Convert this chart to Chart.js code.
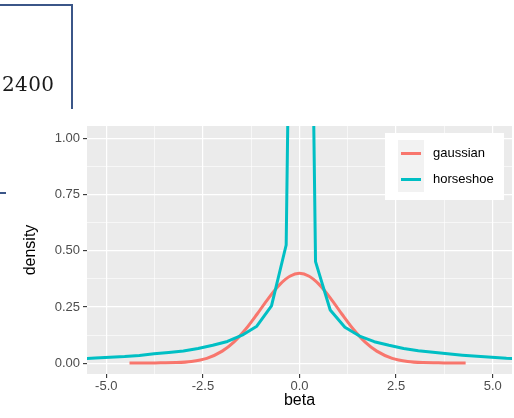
<!DOCTYPE html>
<html lang="en">
<head>
<meta charset="UTF-8">
<title>Prior density: gaussian vs horseshoe</title>
<script src="https://cdn.jsdelivr.net/npm/chart.js"></script>
<style>
    body { margin: 0; background: #fff; }
    .wrap { position: relative; width: 514px; height: 418px; overflow: hidden; }
    #plot { position: absolute; left: 0; top: 0; }
    .frame-top { position: absolute; left: 0; top: 4px; width: 73px; height: 2px; background: #3b5688; }
    .frame-side { position: absolute; left: 71px; top: 4px; width: 2px; height: 105px; background: #3b5688; }
    .stub { position: absolute; left: 0; top: 192px; width: 6px; height: 2px; background: #3b5688; }
    .num { position: absolute; left: 2px; top: 73px; font-family: 'DejaVu Serif', serif; font-size: 20px; line-height: 23px; letter-spacing: 0.4px; color: #1a1a1a; }
</style>
</head>
<body>
<div class="wrap">
    <canvas id="plot" width="514" height="418"></canvas>
    <div class="frame-top"></div>
    <div class="frame-side"></div>
    <div class="stub"></div>
    <div class="num">2400</div>
</div>

<script>
    // gaussian prior, density
    const betaGauss = [-4.4, -4.0, -3.6, -3.2, -2.8, -2.4, -2.0, -1.7, -1.4, -1.1, -0.8, -0.5, -0.25, 0,
        0.25, 0.5, 0.8, 1.1, 1.4, 1.7, 2.0, 2.4, 2.8, 3.2, 3.6, 4.0, 4.3];
    const densGauss = [0.001, 0.001, 0.002, 0.003, 0.008, 0.022, 0.054, 0.094, 0.150, 0.218, 0.290, 0.352, 0.387, 0.400,
        0.387, 0.352, 0.290, 0.218, 0.150, 0.094, 0.054, 0.022, 0.008, 0.003, 0.002, 0.001, 0.001];

    // horseshoe prior, density at the kinks of the teal line
    const betaHorse = [-5.665, -5.285, -4.905, -4.525, -4.145, -3.765, -3.385, -3.005, -2.625, -2.245, -1.865, -1.485,
        -1.105, -0.725, -0.345, 0.035, 0.415, 0.795, 1.175, 1.555, 1.935, 2.315, 2.695, 3.075, 3.455, 3.835,
        4.215, 4.595, 4.975, 5.355, 5.735];
    const densHorse = [0.020, 0.024, 0.027, 0.030, 0.035, 0.042, 0.048, 0.055, 0.066, 0.080, 0.097, 0.125,
        0.165, 0.255, 0.526, 5.5, 0.452, 0.237, 0.160, 0.121, 0.096, 0.080, 0.066, 0.056, 0.049, 0.042,
        0.036, 0.031, 0.027, 0.022, 0.019];

    const seriesNames = ['gaussian', 'horseshoe'];
    const seriesColors = ['#F8766D', '#00BFC4'];

    const xMajor = [-5, -2.5, 0, 2.5, 5];
    const xMajorLabels = ['-5.0', '-2.5', '0.0', '2.5', '5.0'];
    const xMinor = [-3.75, -1.25, 1.25, 3.75];
    const yMajor = [0, 0.25, 0.5, 0.75, 1];
    const yMajorLabels = ['0.00', '0.25', '0.50', '0.75', '1.00'];
    const yMinor = [0.125, 0.375, 0.625, 0.875];

    const zip = (xs, ys) => xs.map((x, i) => ({ x: x, y: ys[i] }));

    function isMajor(list, v) {
        return list.some(m => Math.abs(m - v) < 1e-9);
    }

    function setTicks(major, minor) {
        return function (scale) {
            scale.ticks = major.concat(minor).sort((a, b) => a - b).map(v => ({ value: v }));
        };
    }

    function labelFor(major, labels) {
        return function (value) {
            const i = major.findIndex(m => Math.abs(m - value) < 1e-9);
            return i >= 0 ? labels[i] : '';
        };
    }

    const panelBg = {
        id: 'panelBg',
        beforeDraw(chart) {
            const a = chart.chartArea;
            const ctx = chart.ctx;
            ctx.save();
            ctx.fillStyle = '#EBEBEB';
            ctx.fillRect(a.left, a.top, a.right - a.left, a.bottom - a.top);
            ctx.restore();
        }
    };

    // ggplot-like legend inside the panel, top right
    const insideLegend = {
        id: 'insideLegend',
        afterDraw(chart) {
            const a = chart.chartArea;
            const ctx = chart.ctx;
            const bx = a.right - 127, by = a.top + 7;
            ctx.save();
            ctx.fillStyle = '#fff';
            ctx.fillRect(bx, by, 119, 67);
            ctx.fillStyle = '#F2F2F2';
            ctx.fillRect(bx + 13, by + 7, 26, 52);
            ctx.font = '13px "Liberation Sans", Arial, sans-serif';
            ctx.textBaseline = 'middle';
            chart.data.datasets.forEach((ds, i) => {
                const cy = by + 20.5 + i * 26;
                ctx.strokeStyle = ds.borderColor;
                ctx.lineWidth = 3;
                ctx.beginPath();
                ctx.moveTo(bx + 16, cy);
                ctx.lineTo(bx + 36, cy);
                ctx.stroke();
                ctx.fillStyle = '#000';
                ctx.fillText(ds.label, bx + 48, cy);
            });
            ctx.restore();
        }
    };

    const gridColor = '#FFFFFF';

    const chart = new Chart(document.getElementById('plot'), {
        type: 'line',
        data: {
            datasets: [{
                label: seriesNames[0],
                data: zip(betaGauss, densGauss),
                borderColor: seriesColors[0],
                borderWidth: 3,
                pointRadius: 0,
                cubicInterpolationMode: 'monotone',
                clip: 0,
                order: 1
            }, {
                label: seriesNames[1],
                data: zip(betaHorse, densHorse),
                borderColor: seriesColors[1],
                borderWidth: 3,
                pointRadius: 0,
                tension: 0,
                borderJoinStyle: 'round',
                clip: 0,
                order: 0
            }]
        },
        options: {
            responsive: false,
            animation: false,
            devicePixelRatio: 1,
            layout: { padding: { top: 126, right: 2, left: 0, bottom: 0 } },
            plugins: {
                legend: { display: false },
                tooltip: { enabled: false }
            },
            scales: {
                x: {
                    type: 'linear',
                    min: -5.5,
                    max: 5.5,
                    afterBuildTicks: setTicks(xMajor, xMinor),
                    afterFit: s => { s.height = 44; },
                    border: { display: false },
                    grid: {
                        color: gridColor,
                        lineWidth: c => isMajor(xMajor, c.tick.value) ? 1.2 : 0.6,
                        tickColor: c => isMajor(xMajor, c.tick.value) ? '#333333' : 'rgba(0,0,0,0)',
                        tickWidth: 1.1,
                        tickLength: 4
                    },
                    ticks: {
                        autoSkip: false,
                        maxRotation: 0,
                        padding: 1,
                        color: '#4D4D4D',
                        font: { family: '"Liberation Sans", Arial, sans-serif', size: 13 },
                        callback: labelFor(xMajor, xMajorLabels)
                    },
                    title: {
                        display: true,
                        text: 'beta',
                        color: '#000',
                        padding: { top: 0, bottom: 8 },
                        font: { family: '"Liberation Sans", Arial, sans-serif', size: 16 }
                    }
                },
                y: {
                    type: 'linear',
                    min: -0.0476,
                    max: 1.055,
                    afterBuildTicks: setTicks(yMajor, yMinor),
                    afterFit: s => { s.width = 87; },
                    border: { display: false },
                    grid: {
                        color: gridColor,
                        lineWidth: c => isMajor(yMajor, c.tick.value) ? 1.2 : 0.6,
                        tickColor: c => isMajor(yMajor, c.tick.value) ? '#333333' : 'rgba(0,0,0,0)',
                        tickWidth: 1.1,
                        tickLength: 4
                    },
                    ticks: {
                        autoSkip: false,
                        padding: 3,
                        color: '#4D4D4D',
                        font: { family: '"Liberation Sans", Arial, sans-serif', size: 13 },
                        callback: labelFor(yMajor, yMajorLabels)
                    },
                    title: {
                        display: true,
                        text: 'density',
                        color: '#000',
                        padding: { top: 21, bottom: 0 },
                        font: { family: '"Liberation Sans", Arial, sans-serif', size: 16 }
                    }
                }
            }
        },
        plugins: [panelBg, insideLegend]
    });
</script>
</body>
</html>
